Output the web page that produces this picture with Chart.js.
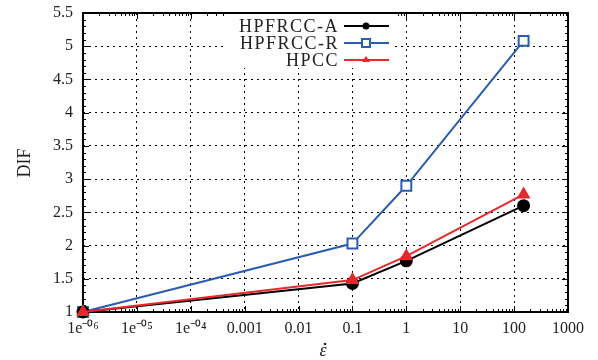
<!DOCTYPE html>
<html>
<head>
<meta charset="utf-8">
<script src="https://cdn.jsdelivr.net/npm/chart.js@4"></script>
<style>
  html, body { margin: 0; padding: 0; background: #fff; }
  #wrap { width: 598px; height: 360px; }
</style>
</head>
<body>
<div id="wrap"><canvas id="chart"></canvas></div>
<script>
// strain rate values (x) and DIF for each material
const strainRates = [1e-6, 0.1, 1, 150];
const hpfrccA = [1, 1.43, 1.77, 2.6];
const hpfrccR = [1, 2.03, 2.9, 5.08];
const hpcc = [1, 1.48, 1.84, 2.77];

const xTickValues = [1e-6, 1e-5, 1e-4, 1e-3, 1e-2, 1e-1, 1, 10, 100, 1000];
const xTickLabels = ['1e\u207B\u2070\u2076', '1e\u207B\u2070\u2075', '1e\u207B\u2070\u2074', '0.001', '0.01', '0.1', '1', '10', '100', '1000'];

const seriesNames = ['HPFRCC-A', 'HPFRCC-R', 'HPCC'];
const colors = ['#000000', '#2a5db0', '#e8282b'];

const serif = '"Liberation Serif", "Times New Roman", serif';

// frame, minor ticks, legend box and axis titles
const decorations = {
    id: 'decorations',
    beforeDatasetsDraw(chart) {
        const { ctx, chartArea: a, scales } = chart;
        const x = scales.x, y = scales.y;
        ctx.save();
        ctx.strokeStyle = '#000';
        ctx.lineWidth = 1;
        // minor ticks x (log)
        for (let e = -6; e < 3; e++) {
            for (let m = 2; m <= 9; m++) {
                const px = Math.round(x.getPixelForValue(m * Math.pow(10, e))) + 0.5;
                ctx.beginPath();
                ctx.moveTo(px, a.bottom); ctx.lineTo(px, a.bottom - 3);
                ctx.moveTo(px, a.top); ctx.lineTo(px, a.top + 3);
                ctx.stroke();
            }
        }
        xTickValues.forEach(v => {
            const px = Math.round(x.getPixelForValue(v)) + 0.5;
            ctx.beginPath();
            ctx.moveTo(px, a.bottom); ctx.lineTo(px, a.bottom - 6);
            ctx.moveTo(px, a.top); ctx.lineTo(px, a.top + 6);
            ctx.stroke();
        });
        // minor ticks y
        for (let i = 0; i <= 45; i++) {
            const v = 1 + i * 0.1;
            const py = Math.round(y.getPixelForValue(v)) + 0.5;
            const len = (i % 5 === 0) ? 6 : 3;
            ctx.beginPath();
            ctx.moveTo(a.left, py); ctx.lineTo(a.left + len, py);
            ctx.moveTo(a.right, py); ctx.lineTo(a.right - len, py);
            ctx.stroke();
        }
        // frame
        ctx.lineWidth = 2;
        ctx.strokeRect(a.left, a.top, a.right - a.left, a.bottom - a.top);
        // opaque legend box
        ctx.fillStyle = '#fff';
        ctx.fillRect(225, a.top + 1, 170, 54);
        ctx.restore();
    },
    afterDraw(chart) {
        const { ctx } = chart;
        ctx.save();
        // legend
        ctx.font = '18px ' + serif;
        ctx.letterSpacing = '1.5px';
        ctx.textAlign = 'right';
        ctx.textBaseline = 'middle';
        const rows = [26, 43, 60];
        seriesNames.forEach((name, i) => {
            const ly = rows[i];
            ctx.fillStyle = '#222';
            ctx.fillText(name, 339, ly + 1);
            ctx.strokeStyle = colors[i];
            ctx.lineWidth = 2;
            ctx.beginPath();
            ctx.moveTo(344, ly); ctx.lineTo(389, ly);
            ctx.stroke();
            ctx.fillStyle = colors[i];
            ctx.beginPath();
            if (i === 0) {
                ctx.arc(366, ly, 3.5, 0, Math.PI * 2);
                ctx.fill();
            } else if (i === 1) {
                ctx.fillStyle = '#fff';
                ctx.fillRect(362, ly - 4, 8, 8);
                ctx.strokeRect(362, ly - 4, 8, 8);
            } else {
                ctx.moveTo(366, ly - 4); ctx.lineTo(370, ly + 2); ctx.lineTo(362, ly + 2);
                ctx.closePath();
                ctx.fill();
            }
        });
        ctx.letterSpacing = '0px';
        // axis titles
        ctx.fillStyle = '#222';
        ctx.textAlign = 'center';
        ctx.textBaseline = 'alphabetic';
        ctx.font = '18px ' + serif;
        ctx.save();
        ctx.translate(30, 163);
        ctx.rotate(-Math.PI / 2);
        ctx.fillText('DIF', 0, 0);
        ctx.restore();
        ctx.font = 'italic 18px ' + serif;
        ctx.fillText('\u03B5', 323, 356);
        // dot over epsilon (strain rate)
        ctx.beginPath();
        ctx.arc(325, 344, 1.3, 0, Math.PI * 2);
        ctx.fill();
        ctx.restore();
    }
};

new Chart(document.getElementById('chart'), {
    type: 'line',
    data: {
        datasets: [
            {
                label: seriesNames[0],
                data: strainRates.map((x, i) => ({ x, y: hpfrccA[i] })),
                borderColor: colors[0],
                backgroundColor: colors[0],
                borderWidth: 2,
                pointStyle: 'circle',
                pointRadius: 5.5,
                order: 2
            },
            {
                label: seriesNames[1],
                data: strainRates.map((x, i) => ({ x, y: hpfrccR[i] })),
                borderColor: colors[1],
                backgroundColor: '#fff',
                borderWidth: 2,
                pointStyle: 'rect',
                pointRadius: 7,
                pointBorderWidth: 2,
                order: 3
            },
            {
                label: seriesNames[2],
                data: strainRates.map((x, i) => ({ x, y: hpcc[i] })),
                borderColor: colors[2],
                backgroundColor: colors[2],
                borderWidth: 2,
                pointStyle: 'triangle',
                pointRadius: 6,
                order: 1
            }
        ]
    },
    options: {
        responsive: true,
        maintainAspectRatio: false,
        animation: false,
        clip: false,
        layout: { padding: { left: 0, right: 30, top: 13, bottom: 0 } },
        plugins: {
            legend: { display: false },
            tooltip: { enabled: false }
        },
        scales: {
            x: {
                type: 'logarithmic',
                min: 1e-6,
                max: 1000,
                afterBuildTicks: scale => {
                    scale.ticks = xTickValues.map(v => ({ value: v }));
                },
                afterFit: scale => {
                    scale.height = 48;
                    scale.paddingLeft = 0;
                    scale.paddingRight = 0;
                },
                ticks: {
                    autoSkip: false,
                    maxRotation: 0,
                    padding: 7,
                    color: '#222',
                    font: { family: serif, size: 16 },
                    callback: (v) => {
                        const i = xTickValues.findIndex(t => Math.abs(Math.log10(t) - Math.log10(v)) < 1e-6);
                        return i >= 0 ? xTickLabels[i] : '';
                    }
                },
                grid: { color: '#000', lineWidth: 1, drawTicks: false },
                border: { display: false, dash: [2, 4] }
            },
            y: {
                min: 1,
                max: 5.5,
                afterFit: scale => {
                    scale.width = 83;
                    scale.paddingTop = 0;
                    scale.paddingBottom = 0;
                },
                ticks: {
                    stepSize: 0.5,
                    padding: 10,
                    color: '#222',
                    font: { family: serif, size: 16 },
                    callback: v => String(Math.round(v * 10) / 10)
                },
                grid: { color: '#000', lineWidth: 1, drawTicks: false },
                border: { display: false, dash: [2, 4] }
            }
        }
    },
    plugins: [decorations]
});
</script>
</body>
</html>
